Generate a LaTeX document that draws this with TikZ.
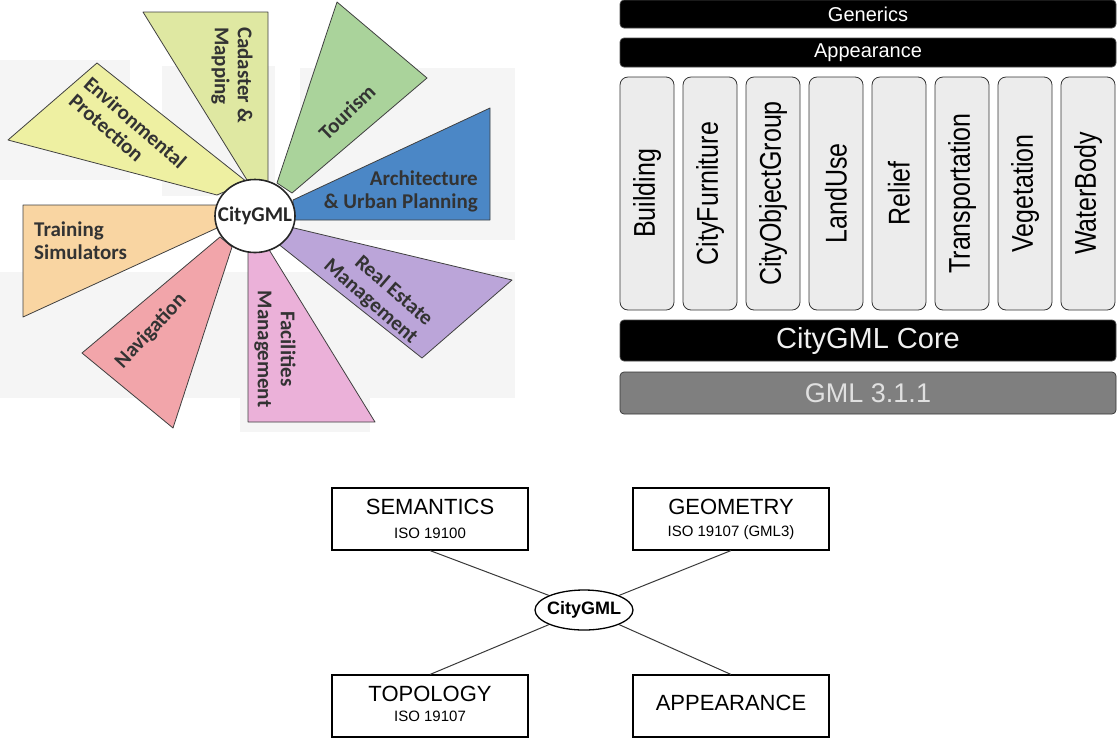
\documentclass[tikz,border=0pt]{standalone}
\usepackage{fontspec}
\setmainfont{Liberation Sans}
\newfontfamily\carl{Carlito}
\usetikzlibrary{shapes.geometric}
\definecolor{cEnv}{HTML}{EEF0A2}
\definecolor{cCad}{HTML}{DFE8A2}
\definecolor{cTour}{HTML}{AAD39B}
\definecolor{cArch}{HTML}{4B87C6}
\definecolor{cReal}{HTML}{BBA5D9}
\definecolor{cFac}{HTML}{EBB1D9}
\definecolor{cNav}{HTML}{F2A5AA}
\definecolor{cTrain}{HTML}{F9D5A2}
\definecolor{cBox}{HTML}{ECECEC}
\definecolor{cGML}{HTML}{7F7F7F}
\begin{document}
\begin{tikzpicture}[x=1pt,y=-1pt,
  wedge/.style={draw=gray!50!black, line width=0.8pt, line join=round},
  flabel/.style={font=\carl\bfseries\fontsize{21}{23}\selectfont, text=black!80, inner sep=0pt},
  photo/.style={fill=gray!8, draw=none},
  blackbar/.style={draw=gray!60!black, line width=0.7pt, fill=black, rounded corners=4pt, text=white, inner sep=0pt, minimum width=496pt},
  vbox/.style={draw=gray!40!black, line width=0.8pt, fill=cBox, rounded corners=8pt, inner sep=0pt, minimum width=54pt, minimum height=233pt, font=\fontsize{25}{30}\selectfont},
  bbox/.style={draw=black, line width=1.1pt, minimum width=196pt, minimum height=62pt, inner sep=0pt},
  btitle/.style={font=\fontsize{22}{26}\selectfont, inner sep=0pt},
  bsub/.style={font=\fontsize{15}{18}\selectfont, inner sep=0pt},
  conn/.style={draw=gray!45!black, line width=1pt}]
\useasboundingbox (0,0) rectangle (1118,740);

% ---------- faint background photos ----------
\fill[photo] (0,60) rectangle (130,180);
\fill[photo] (162,66) rectangle (275,196);
\fill[photo] (300,68) rectangle (515,240);
\fill[photo] (0,272) rectangle (515,398);
\fill[photo] (240,320) rectangle (370,432);

% ---------- fan wedges ----------
\draw[wedge, fill=cEnv] (97,63) -- (8,140) -- (217,195) -- (247,182) -- cycle;
\draw[wedge, fill=cCad] (143,12) -- (268,12) -- (268,182) -- (247,180) -- cycle;
\draw[wedge, fill=cTour] (337,2) -- (427,78) -- (292,193) -- (277,183) -- cycle;
\draw[wedge, fill=cArch] (490,108) -- (490,220) -- (293,220) -- (293,200) -- cycle;
\draw[wedge, fill=cReal] (290,227) -- (512,280) -- (422,358) -- (277,243) -- cycle;
\draw[wedge, fill=cFac] (248,248) -- (268,248) -- (375,422) -- (248,422) -- cycle;
\draw[wedge, fill=cNav] (82,353) -- (220,237) -- (232,247) -- (173,428) -- cycle;
\draw[wedge, fill=cTrain] (23,205) -- (217,205) -- (217,228) -- (23,317) -- cycle;

\node[ellipse, draw=black!85, line width=1.6pt, fill=white, minimum width=80pt, minimum height=73pt, inner sep=0pt] (fcg) at (255,216) {};
\node[font=\carl\bfseries\fontsize{21}{23}\selectfont, text=black!85, inner sep=0pt] (fcgt) at (fcg.center) {CityGML};

\node[flabel, rotate=-41, align=left] (lenv) at (128,131) {Environmental\\Protection};
\node[flabel, rotate=-90, align=left] (lcad) at (232,75) {Cadaster \&\\Mapping};
\node[flabel, rotate=44] (ltour) at (347,112) {Tourism};
\node[flabel, align=right, anchor=east] (larch) at (478,191) {Architecture\\\& Urban Planning};
\node[flabel, rotate=-41, align=right] (lreal) at (378,293) {Real Estate\\Management};
\node[flabel, rotate=-90, align=center] (lfac) at (275,349) {Facilities\\Management};
\node[flabel, rotate=47] (lnav) at (151,331) {Navigation};
\node[flabel, align=left, anchor=west] (ltrain) at (34,241) {Training\\Simulators};

% ---------- CityGML module stack ----------
\node[blackbar, minimum height=28pt, font=\fontsize{20}{24}\selectfont] (gen) at (868,14) {Generics};
\node[blackbar, minimum height=29pt, font=\fontsize{20}{24}\selectfont] (app) at (868,52.5) {Appearance};
\foreach \t [count=\i from 0] in {Building,CityFurniture,CityObjectGroup,LandUse,Relief,Transportation,Vegetation,WaterBody}{
  \node[vbox] (m\i) at ({647+63*\i},193.5) {\scalebox{1.2}[1]{\rotatebox{90}{\t}}};
}
\node[blackbar, minimum height=41pt, text=white!94!black, font=\fontsize{29}{34}\selectfont] (core) at (868,340.5) {CityGML Core};
\node[blackbar, draw=gray!40!black, fill=cGML, minimum height=42pt, text=white!88!black, font=\fontsize{27}{32}\selectfont] (gml) at (868,393) {GML 3.1.1};

% ---------- CityGML aspects ----------
\node[bbox] (sem) at (430,519) {};
\node[btitle] (semt) at (430,507) {SEMANTICS};
\node[bsub] (sems) at (430,533) {ISO 19100};
\node[bbox] (geo) at (731,519) {};
\node[btitle] (geot) at (731,507) {GEOMETRY};
\node[bsub] (geos) at (731,533) {ISO 19107 (GML3)};
\node[bbox] (top) at (430,706) {};
\node[btitle] (topt) at (430,694) {TOPOLOGY};
\node[bsub] (tops) at (430,716) {ISO 19107};
\node[bbox] (apr) at (731,706) {};
\node[btitle] (aprt) at (731,703) {APPEARANCE};

\node[ellipse, draw=black, line width=1.3pt, minimum width=98pt, minimum height=40pt, inner sep=0pt] (bcg) at (584,610) {};
\node[font=\bfseries\fontsize{18}{20}\selectfont, inner sep=0pt] (bcgt) at (bcg.center) {CityGML};

\draw[conn] (sem.south) -- (bcg.north west);
\draw[conn] (geo.south) -- (bcg.north east);
\draw[conn] (top.north) -- (bcg.south west);
\draw[conn] (apr.north) -- (bcg.south east);
\end{tikzpicture}
\end{document}
